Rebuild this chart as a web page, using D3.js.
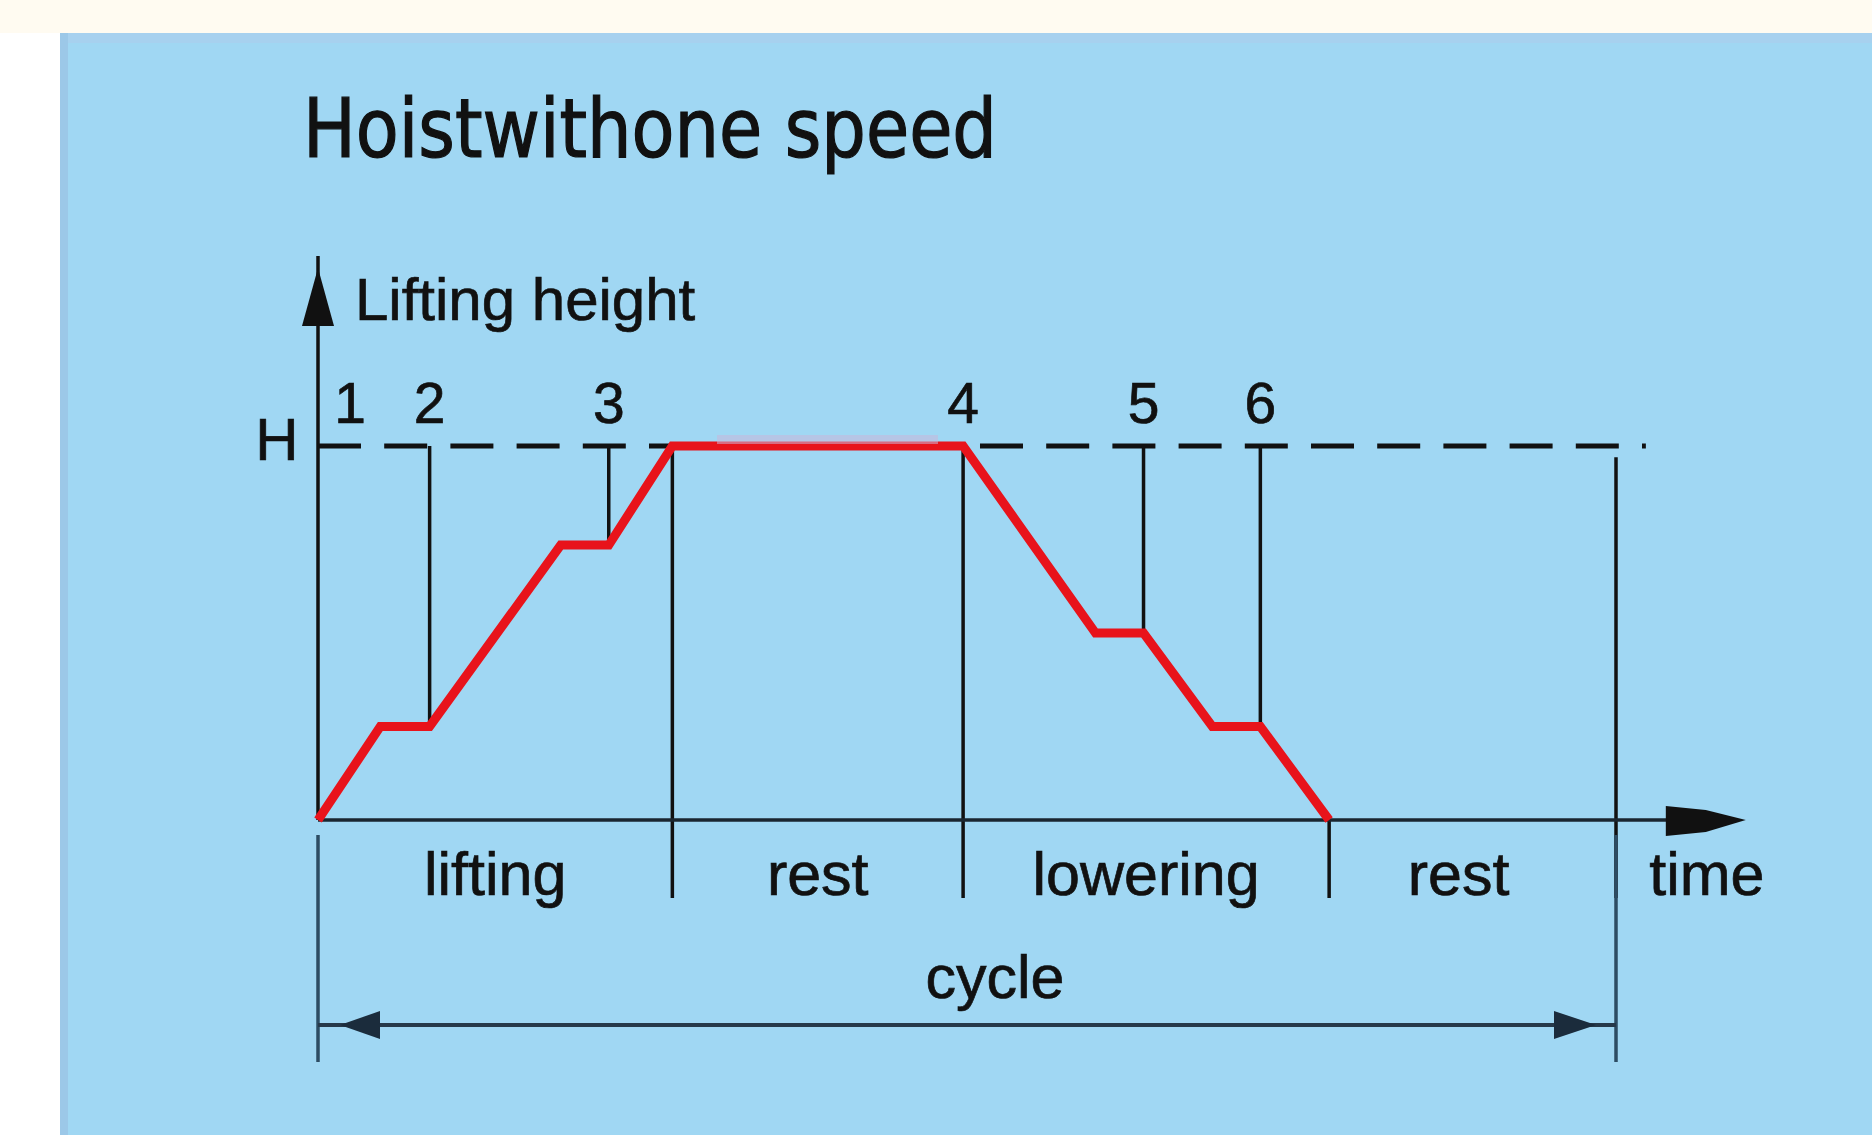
<!DOCTYPE html>
<html>
<head>
<meta charset="utf-8">
<script src="https://cdn.jsdelivr.net/npm/d3@7"></script>
<style>
  body { margin: 0; background: #fff; }
  text { font-family: "Liberation Sans", Arial, sans-serif; fill: #111; stroke: #111; stroke-width: 0.7px; }
</style>
</head>
<body>
<svg id="chart" width="1872" height="1135"></svg>
<script>
// hoist with one speed - lifting height over one work cycle
var profileTime   = [0, 4.8, 8.6, 18.7, 22.4, 27.3, 49.7, 59.9, 63.6, 68.9, 72.6, 77.9];
var profileHeight = [0, 0.25, 0.25, 0.735, 0.735, 1, 1, 0.5, 0.5, 0.25, 0.25, 0];

var markerLabels = ['1', '2', '3', '4', '5', '6'];
var markerTime   = [0, 8.6, 22.4, 49.7, 63.6, 72.6];
var markerBottom = [1, 0.25, 0.735, 1, 0.5, 0.25];   // where the marker line meets the curve

var phaseBounds = [0, 27.3, 49.7, 77.9, 100];
var phaseTop    = [0, 1, 1, 0, 0.97];
var phaseLabels = ['lifting', 'rest', 'lowering', 'rest'];

var cycleStart = 0, cycleEnd = 100, timeEnd = 110, dashEnd = 102.3;

// init
var svg = d3.select('#chart');
var W = 1872, H = 1135;

var x = d3.scaleLinear().domain([0, 100]).range([318, 1616]);
var y = d3.scaleLinear().domain([0, 1]).range([820, 446]);

// background panels
svg.append('rect').attr('x', 0).attr('y', 0).attr('width', W).attr('height', 33).attr('fill', '#fffbf1');
svg.append('rect').attr('x', 60).attr('y', 33).attr('width', W - 60).attr('height', H - 33).attr('fill', '#a0d7f3');
svg.append('rect').attr('x', 60).attr('y', 33).attr('width', W - 60).attr('height', 10).attr('fill', '#a7d1ef');
svg.append('rect').attr('x', 60).attr('y', 33).attr('width', 8).attr('height', H - 33).attr('fill', '#9cc8e8');

// title (condensed, tightly set)
svg.append('text')
    .attr('x', 303).attr('y', 157)
    .style('font-family', '"DejaVu Sans Condensed", "DejaVu Sans", sans-serif')
    .style('font-stretch', 'condensed')
    .style('stroke-width', '1.2px')
    .attr('font-size', 82)
    .attr('textLength', 694)
    .attr('lengthAdjust', 'spacingAndGlyphs')
    .text('Hoistwithone speed');

var g = svg.append('g');

// dashed H level
g.append('line')
    .attr('x1', x(0)).attr('x2', x(dashEnd))
    .attr('y1', y(1)).attr('y2', y(1))
    .attr('stroke', '#111').attr('stroke-width', 5)
    .attr('stroke-dasharray', '43,23.2');

// marker lines from H down to the curve
g.selectAll('line.marker')
    .data(markerTime.map((t, i) => ({t: t, b: markerBottom[i]})).filter(d => d.t > 0 && d.b < 1))
    .enter().append('line')
    .attr('class', 'marker')
    .attr('x1', d => x(d.t)).attr('x2', d => x(d.t))
    .attr('y1', y(1)).attr('y2', d => y(d.b))
    .attr('stroke', '#111').attr('stroke-width', 3.5);

// phase separators
g.selectAll('line.phase')
    .data(phaseBounds.map((t, i) => ({t: t, top: phaseTop[i]})).filter(d => d.t > cycleStart))
    .enter().append('line')
    .attr('class', 'phase')
    .attr('x1', d => x(d.t)).attr('x2', d => x(d.t))
    .attr('y1', d => y(d.top)).attr('y2', 898)
    .attr('stroke', '#111').attr('stroke-width', 3.5);

// cycle bounds below the axis
g.selectAll('line.cycleBound')
    .data([cycleStart, cycleEnd])
    .enter().append('line')
    .attr('class', 'cycleBound')
    .attr('x1', d => x(d)).attr('x2', d => x(d))
    .attr('y1', 835).attr('y2', 1062)
    .attr('stroke', '#2d4c63').attr('stroke-width', 3.5);

// y axis with arrow
g.append('line')
    .attr('x1', x(0)).attr('x2', x(0))
    .attr('y1', y(0)).attr('y2', 256)
    .attr('stroke', '#111').attr('stroke-width', 3.5);
g.append('path')
    .attr('d', d3.line()([[x(0), 268], [x(0) - 16, 326], [x(0) + 16, 326]]) + 'Z')
    .attr('fill', '#111');

// x axis with arrow
g.append('line')
    .attr('x1', x(0)).attr('x2', x(timeEnd) - 20)
    .attr('y1', y(0)).attr('y2', y(0))
    .attr('stroke', '#1a2630').attr('stroke-width', 3.5);
g.append('path')
    .attr('d', d3.line()([[x(timeEnd) - 80, y(0) - 14], [x(timeEnd) - 40, y(0) - 10],
                          [x(timeEnd), y(0)], [x(timeEnd) - 40, y(0) + 12], [x(timeEnd) - 80, y(0) + 16]]) + 'Z')
    .attr('fill', '#111');

// lifting profile
var line = d3.line().x(d => x(d[0])).y(d => y(d[1]));
g.append('path')
    .attr('d', line(profileTime.map((t, i) => [t, profileHeight[i]])))
    .attr('fill', 'none')
    .attr('stroke', '#e8131b')
    .attr('stroke-width', 9)
    .attr('stroke-linejoin', 'miter');
// faint scan tint over the top flat
g.append('rect')
    .attr('x', 717).attr('y', 435).attr('width', 221).attr('height', 9)
    .attr('fill', '#c8b6d8').attr('opacity', 0.55);

// marker numbers
g.selectAll('text.marker')
    .data(markerLabels)
    .enter().append('text')
    .attr('class', 'marker')
    .attr('x', (d, i) => x(markerTime[i]) + (i == 0 ? 32 : 0))
    .attr('y', 423)
    .attr('text-anchor', 'middle')
    .attr('font-size', 57)
    .text(d => d);

// axis labels
g.append('text').attr('x', x(0) - 41).attr('y', 460).attr('text-anchor', 'middle').attr('font-size', 60).text('H');
g.append('text').attr('x', 355).attr('y', 320).attr('font-size', 60).text('Lifting height');
g.append('text').attr('x', x(107)).attr('y', 895).attr('text-anchor', 'middle').attr('font-size', 61).text('time');

// phase labels (last one sits a bit left of its midpoint)
g.selectAll('text.phase')
    .data(phaseLabels)
    .enter().append('text')
    .attr('class', 'phase')
    .attr('x', (d, i) => (x(phaseBounds[i]) + x(phaseBounds[i + 1])) / 2 + (i == 3 ? -14 : 0))
    .attr('y', 895)
    .attr('text-anchor', 'middle')
    .attr('font-size', 61)
    .text(d => d);

// cycle arrow
var cy = 1025;
g.append('line')
    .attr('x1', x(cycleStart)).attr('x2', x(cycleEnd))
    .attr('y1', cy).attr('y2', cy)
    .attr('stroke', '#26394a').attr('stroke-width', 4);
g.append('path')
    .attr('d', d3.line()([[x(cycleStart) + 22, cy], [x(cycleStart) + 62, cy - 14], [x(cycleStart) + 62, cy + 14]]) + 'Z')
    .attr('fill', '#1b2c3c');
g.append('path')
    .attr('d', d3.line()([[x(cycleEnd) - 20, cy], [x(cycleEnd) - 62, cy - 14], [x(cycleEnd) - 62, cy + 14]]) + 'Z')
    .attr('fill', '#1b2c3c');
g.append('text')
    .attr('x', (x(cycleStart) + x(cycleEnd)) / 2 + 28)
    .attr('y', 998)
    .attr('text-anchor', 'middle')
    .attr('font-size', 61)
    .text('cycle');
</script>
</body>
</html>
